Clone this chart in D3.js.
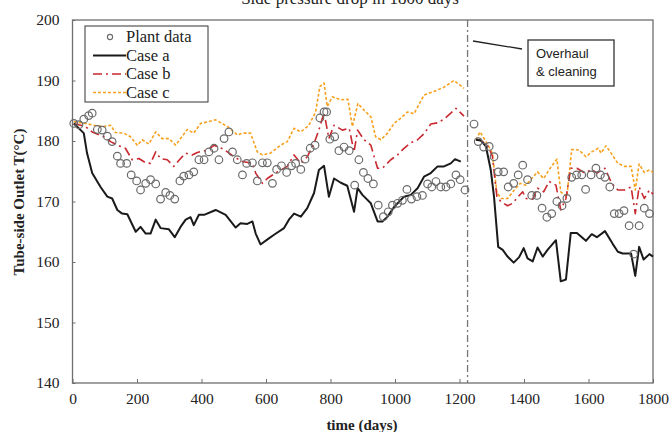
<!DOCTYPE html>
<html lang="en">
<head>
<meta charset="UTF-8">
<title>Tube-side outlet temperature</title>
<style>
  body { margin: 0; background: #fff; }
  svg { display: block; }
  .tick text { font-family: "Liberation Serif", "DejaVu Serif", serif; font-size: 15.5px; fill: #222; }
</style>
</head>
<body>
<script src="https://cdn.jsdelivr.net/npm/d3@7"></script>
<script>
// [day, T(°C)]
const plantData = [[4,182.9],[20,182.7],[35,183.6],[50,184.2],[61,184.6],[77,181.9],[92,181.8],[108,180.8],[123,179.9],[139,177.5],[149,176.3],[168,176.3],[182,174.4],[199,173.4],[211,171.9],[227,173],[242,173.6],[258,172.9],[273,170.4],[289,171.5],[302,171],[317,170.4],[333,173.4],[345,174.2],[361,174.4],[376,174.9],[392,176.9],[408,176.9],[423,178.2],[439,178.8],[454,176.9],[470,180.4],[485,181.5],[496,178.2],[511,176.9],[527,174.4],[540,176.3],[558,176.4],[573,173.4],[589,176.4],[604,176.4],[620,173],[633,175.3],[648,175.9],[664,174.8],[679,175.9],[692,176.3],[708,175.3],[721,177],[737,178.8],[752,179.3],[767,183.8],[780,184.8],[788,184.8],[798,180.3],[813,180.7],[826,178.4],[842,179],[858,178.4],[875,172.7],[888,176.9],[902,174.8],[916,173.8],[933,172.9],[948,169.4],[964,167.5],[979,168.3],[992,169.4],[1008,169.7],[1023,170.2],[1037,172],[1051,170.4],[1068,170.8],[1085,171],[1101,172.9],[1114,172.4],[1127,173.3],[1142,172.4],[1158,172.4],[1173,172.9],[1189,174.4],[1202,173.6],[1217,171.9],[1245,182.8],[1258,179.9],[1275,179],[1292,179.1],[1307,177.4],[1320,174.9],[1337,174.9],[1351,172.4],[1368,173],[1382,174.4],[1396,176],[1411,173.6],[1424,171],[1440,171],[1456,168.9],[1471,167.4],[1486,168],[1502,170],[1518,169.3],[1533,170.5],[1548,174],[1563,174.4],[1579,174.4],[1591,172],[1608,174.4],[1623,175.5],[1637,174.4],[1651,174],[1666,172.4],[1680,168],[1695,168],[1710,168.5],[1726,166],[1740,161.3],[1757,166],[1773,168.9],[1789,168]];

const caseA1 = [[4,182.9],[35,181.3],[45,178],[61,174.7],[87,172.4],[108,170.8],[123,170.5],[139,168.6],[154,168],[170,167.9],[196,165],[211,165.8],[227,164.7],[242,164.7],[258,167],[273,165.6],[299,165.4],[317,164.1],[335,165.8],[351,167],[366,167.4],[376,166.1],[392,167.8],[408,167.8],[444,168.6],[475,167.8],[506,165.7],[521,166.4],[542,166.3],[558,166.7],[568,164.7],[583,162.9],[609,163.9],[625,164.5],[656,165.6],[671,167],[687,168],[708,167.5],[728,168.9],[749,171.4],[764,175.2],[780,175.9],[795,170.8],[811,173.8],[832,173.1],[852,172.6],[873,168.3],[884,172.2],[899,171.1],[925,169.7],[946,166.7],[961,166.7],[977,167.5],[997,169.1],[1028,170.8],[1049,171.1],[1070,172.2],[1090,174.1],[1111,174.7],[1132,175.8],[1152,175.8],[1173,176.3],[1186,177],[1204,176.6]];
const caseA2 = [[1251,180.2],[1266,180.1],[1282,179.1],[1297,175.2],[1307,170.8],[1320,162.5],[1334,162],[1349,160.9],[1368,159.9],[1385,160.8],[1399,162.3],[1411,160.6],[1427,160.1],[1442,162.4],[1458,160.9],[1473,162],[1499,163.6],[1514,156.8],[1530,157.1],[1545,164.8],[1564,164.8],[1592,163.5],[1610,164.6],[1626,164.1],[1651,165.1],[1675,163],[1691,161.7],[1706,161.4],[1732,161.4],[1745,157.7],[1757,162.5],[1771,160.4],[1789,161.3],[1800,160.9]];

const caseB1 = [[4,182.9],[40,182.4],[61,181.5],[97,180.7],[118,179.9],[144,179.2],[164,178.8],[185,176.9],[206,177.1],[227,176.4],[242,176.3],[258,178.2],[273,177.1],[294,176.9],[314,175.8],[335,177.1],[351,178],[371,177.7],[387,178.1],[418,178.5],[439,179.3],[470,178.6],[501,177.4],[527,176.6],[558,176.3],[568,174.7],[589,173],[604,173.8],[635,174.9],[666,175.8],[687,177.7],[708,176.3],[728,177.4],[749,179.6],[764,181.8],[780,184.7],[795,180.4],[811,182.6],[837,181.8],[858,182.1],[873,178.2],[884,181.8],[904,180.2],[925,179.3],[946,175.5],[961,175.5],[987,176.9],[1008,177.7],[1028,178.8],[1049,179.7],[1070,180.2],[1090,181.2],[1111,182.8],[1132,183],[1152,183.6],[1173,184.6],[1189,185.4],[1214,184.1]];
const caseB2 = [[1251,180.2],[1266,180.1],[1287,179.3],[1302,177.5],[1316,170.8],[1328,170],[1349,169.3],[1365,169.7],[1380,170.7],[1396,171.6],[1406,170.5],[1427,170.4],[1442,172.2],[1461,171.6],[1478,173.3],[1499,172.7],[1514,168.6],[1530,170.5],[1545,175.5],[1564,175.5],[1589,174.7],[1610,175.3],[1626,174.7],[1651,175.5],[1672,173],[1691,171.9],[1712,171.9],[1732,172.4],[1745,168],[1757,172.4],[1773,170.5],[1789,171.9],[1800,171.2]];

const caseC1 = [[4,183.2],[40,182.9],[66,182.6],[97,182.4],[118,182.6],[133,181.4],[159,181.3],[180,180.7],[201,179.3],[216,180.2],[237,179.5],[258,181.5],[278,180.4],[299,180.4],[320,179.3],[335,180.4],[356,181.9],[376,181.3],[397,182.9],[444,183.5],[480,182.4],[511,181],[527,181.3],[552,181.3],[573,178.2],[589,177.7],[614,178],[645,179.3],[666,179.9],[687,182.1],[708,181.5],[733,182.6],[754,184.8],[767,189],[780,189.6],[790,185.7],[806,187.3],[832,186.8],[854,186.9],[868,182.4],[885,186.2],[904,185.1],[925,184],[940,180.7],[956,180.2],[977,181.3],[997,182.9],[1018,183.8],[1039,184.8],[1059,184.5],[1090,187.6],[1121,188.2],[1152,188.9],[1183,190],[1214,188.7]];
const caseC2 = [[1251,180.2],[1264,181.5],[1282,179.9],[1302,178],[1316,171.4],[1330,170.5],[1349,170.5],[1370,171.9],[1388,173],[1406,172.7],[1424,173.8],[1442,174.9],[1461,173.8],[1481,175.5],[1502,177],[1514,171.6],[1533,170.8],[1548,178.6],[1571,178.5],[1592,177.4],[1610,178.2],[1630,178.8],[1639,178],[1654,179.2],[1670,178],[1691,176.3],[1712,175.8],[1732,175.8],[1745,171.9],[1757,176.2],[1773,174.8],[1789,175.2],[1800,174.8]];

const xTicks = [0, 200, 400, 600, 800, 1000, 1200, 1400, 1600, 1800];
const yTicks = [140, 150, 160, 170, 180, 190, 200];
const overhaulDay = 1225;
const legendNames = ['Plant data', 'Case a', 'Case b', 'Case c'];

const W = 672, H = 432;
const mLeft = 72.5, mRight = 653, mTop = 20, mBottom = 383;

const svg = d3.select('body').append('svg')
    .attr('width', W)
    .attr('height', H);

const x = d3.scaleLinear().domain([0, 1800]).range([mLeft, mRight]);
const y = d3.scaleLinear().domain([140, 200]).range([mBottom, mTop]);

// caption cut off at the top edge, as in the source
svg.append('text')
    .attr('x', 350).attr('y', 4)
    .attr('text-anchor', 'middle')
    .attr('font-family', 'Liberation Serif, serif')
    .attr('font-size', 17)
    .attr('fill', '#222')
    .text('Side pressure drop in 1800 days');

// frame
svg.append('rect')
    .attr('x', mLeft).attr('y', mTop)
    .attr('width', mRight - mLeft).attr('height', mBottom - mTop)
    .attr('fill', 'none').attr('stroke', '#6e6e6e').attr('stroke-width', 1.3);

// axes (ticks point inward)
const xAxis = svg.append('g')
    .attr('transform', `translate(0,${mBottom})`)
    .call(d3.axisBottom(x).tickValues(xTicks).tickSize(-4).tickPadding(10).tickFormat(d3.format('d')));
xAxis.select('.domain').remove();
xAxis.selectAll('line').attr('stroke', '#6e6e6e');

const yAxis = svg.append('g')
    .attr('transform', `translate(${mLeft},0)`)
    .call(d3.axisLeft(y).tickValues(yTicks).tickSize(-3).tickPadding(13));
yAxis.select('.domain').remove();
yAxis.selectAll('line').attr('stroke', '#6e6e6e');

// axis titles
svg.append('text')
    .attr('x', 362).attr('y', 430)
    .attr('text-anchor', 'middle')
    .attr('font-family', 'Liberation Serif, serif')
    .attr('font-weight', 'bold').attr('font-size', 15)
    .attr('fill', '#222')
    .text('time (days)');

svg.append('text')
    .attr('transform', 'translate(24,202) rotate(-90)')
    .attr('text-anchor', 'middle')
    .attr('font-family', 'Liberation Serif, serif')
    .attr('font-weight', 'bold').attr('font-size', 15)
    .attr('fill', '#222')
    .text('Tube-side Outlet T(°C)');

// overhaul marker
svg.append('line')
    .attr('x1', x(overhaulDay)).attr('x2', x(overhaulDay))
    .attr('y1', mTop).attr('y2', mBottom)
    .attr('stroke', '#777').attr('stroke-width', 1.3)
    .attr('stroke-dasharray', '7,3,2,3');

const line = d3.line().x(d => x(d[0])).y(d => y(d[1]));

const styles = {
    a: { stroke: '#1a1a1a', width: 2, dash: null },
    b: { stroke: '#c8282e', width: 1.6, dash: '9,4,2,4' },
    c: { stroke: '#f7a11f', width: 1.6, dash: '3,2' }
};

[[caseC1, 'c'], [caseC2, 'c'], [caseB1, 'b'], [caseB2, 'b'], [caseA1, 'a'], [caseA2, 'a']].forEach(([data, k]) => {
    svg.append('path')
        .datum(data)
        .attr('d', line)
        .attr('fill', 'none')
        .attr('stroke', styles[k].stroke)
        .attr('stroke-width', styles[k].width)
        .attr('stroke-dasharray', styles[k].dash)
        .attr('stroke-linejoin', 'round');
});

svg.append('g').selectAll('circle')
    .data(plantData)
    .enter()
    .append('circle')
    .attr('cx', d => x(d[0]))
    .attr('cy', d => y(d[1]))
    .attr('r', 3.8)
    .attr('fill', 'none')
    .attr('stroke', '#6a6a6a')
    .attr('stroke-width', 1.2);

// legend
const lg = svg.append('g');
lg.append('rect')
    .attr('x', 85).attr('y', 26).attr('width', 123).attr('height', 76)
    .attr('fill', '#fff').attr('stroke', '#333').attr('stroke-width', 1);

legendNames.forEach((name, i) => {
    const ly = 37 + i * 18.5;
    if (i === 0) {
        lg.append('circle')
            .attr('cx', 110).attr('cy', ly)
            .attr('r', 2.6).attr('fill', 'none')
            .attr('stroke', '#6a6a6a').attr('stroke-width', 1.1);
    } else {
        const s = styles['abc'[i - 1]];
        lg.append('line')
            .attr('x1', 93).attr('x2', 126)
            .attr('y1', ly).attr('y2', ly)
            .attr('stroke', s.stroke).attr('stroke-width', s.width)
            .attr('stroke-dasharray', s.dash);
    }
    lg.append('text')
        .attr('x', 126).attr('y', ly + 5)
        .attr('font-family', 'Liberation Serif, serif')
        .attr('font-size', 16.5)
        .attr('fill', '#222')
        .text(name);
});

// annotation
svg.append('line')
    .attr('x1', 473).attr('y1', 41)
    .attr('x2', 522).attr('y2', 49)
    .attr('stroke', '#222').attr('stroke-width', 1.3);

svg.append('rect')
    .attr('x', 528).attr('y', 40).attr('width', 86).attr('height', 46)
    .attr('fill', '#fff').attr('stroke', '#333').attr('stroke-width', 1.3);

['Overhaul', '& cleaning'].forEach((t, i) => {
    svg.append('text')
        .attr('x', 536).attr('y', 58 + i * 18)
        .attr('font-family', 'Liberation Sans, Arial, sans-serif')
        .attr('font-size', 13)
        .attr('fill', '#222')
        .text(t);
});
</script>
</body>
</html>
